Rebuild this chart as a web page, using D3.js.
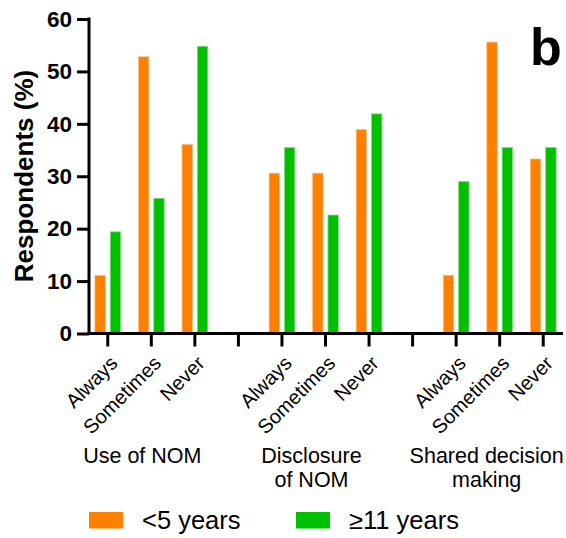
<!DOCTYPE html>
<html>
<head>
<meta charset="utf-8">
<script src="https://cdn.jsdelivr.net/npm/d3@7"></script>
<style>
  html, body { margin: 0; padding: 0; background: #fff; }
  svg { display: block; font-family: "Liberation Sans", Arial, sans-serif; }
</style>
</head>
<body>
<svg id="chart" width="566" height="538"></svg>
<script>
// Survey responses by experience group (% of respondents)
const groups = ["Use of NOM", "Disclosure of NOM", "Shared decision making"];
const groupLines = [["Use of NOM"], ["Disclosure", "of NOM"], ["Shared decision", "making"]];
const answers = ["Always", "Sometimes", "Never"];
const seriesNames = ["<5 years", "≥11 years"];
const seriesColors = ["#FF8000", "#00C000"];
const under5 = [11.1, 52.8, 36.1, 30.6, 30.6, 38.9, 11.1, 55.6, 33.3];
const over11 = [19.4, 25.8, 54.8, 35.5, 22.6, 41.9, 29.0, 35.5, 35.5];
const yTicks = [0, 10, 20, 30, 40, 50, 60];

// Slots along the x axis: three answers per question, an empty slot between questions
const slots = [];
groups.forEach((g, gi) => {
  if (gi > 0) slots.push({ key: "gap" + gi, label: "", gi: gi, empty: true });
  answers.forEach((a, ai) => slots.push({ key: g + "|" + a, label: a, gi: gi, idx: gi * 3 + ai }));
});

const svg = d3.select("#chart");
const axisX = 89, axisY = 333.5;
const font = "'Liberation Sans', Arial, sans-serif";

const x = d3.scaleBand().domain(slots.map(d => d.key)).range([86, 565]).padding(0);
const x1 = d3.scaleBand().domain(seriesNames).range([0, x.bandwidth()])
  .paddingInner(0.32).paddingOuter(0.58);
const y = d3.scaleLinear().domain([0, 60]).range([axisY, 19]);

// Bars
const barData = [];
slots.filter(s => !s.empty).forEach(s => {
  barData.push({ slot: s.key, series: seriesNames[0], v: under5[s.idx], c: seriesColors[0] });
  barData.push({ slot: s.key, series: seriesNames[1], v: over11[s.idx], c: seriesColors[1] });
});
svg.append("g").selectAll("rect").data(barData).join("rect")
  .attr("x", d => x(d.slot) + x1(d.series))
  .attr("width", x1.bandwidth())
  .attr("y", d => y(d.v))
  .attr("height", d => y(0) - y(d.v))
  .attr("fill", d => d.c)
  .attr("stroke", d => d3.interpolateRgb(d.c, "#fff")(0.5))
  .attr("stroke-width", 0.8);

// Y axis
const yAxis = svg.append("g").attr("transform", `translate(${axisX},0)`)
  .call(d3.axisLeft(y).tickValues(yTicks).tickSize(12).tickPadding(5).tickFormat(d3.format("d")));
yAxis.select(".domain").attr("stroke", "#000").attr("stroke-width", 3)
  .attr("d", `M0,${y(0)}V${y(60) - 1.5}`);
yAxis.selectAll(".tick line").attr("stroke", "#000").attr("stroke-width", 3);
yAxis.selectAll(".tick text").attr("fill", "#000").attr("font-size", 22.5).attr("font-weight", "bold")
  .attr("font-family", font);

// X axis
const xAxis = svg.append("g").attr("transform", `translate(0,${axisY})`)
  .call(d3.axisBottom(x).tickSize(13).tickFormat(k => slots.find(s => s.key === k).label));
xAxis.select(".domain").attr("stroke", "#000").attr("stroke-width", 3)
  .attr("d", `M${axisX - 1.5},0H563`);
xAxis.selectAll(".tick line").attr("stroke", "#000").attr("stroke-width", 3);
xAxis.selectAll(".tick text")
  .attr("fill", "#000").attr("font-size", 20)
  .attr("font-family", font)
  .attr("text-anchor", "end")
  .attr("dy", null)
  .attr("transform", "translate(11,31) rotate(-45)")
  .attr("y", 0).attr("x", 0);

// Question labels under each group of answers
const labelShift = [-9, -14, -13];
groups.forEach((g, gi) => {
  const members = slots.filter(s => s.gi === gi && !s.empty);
  const cx = d3.mean(members, s => x(s.key) + x.bandwidth() / 2) + labelShift[gi];
  const t = svg.append("text").attr("x", cx).attr("y", 463)
    .attr("text-anchor", "middle").attr("font-size", 21.5).attr("fill", "#000");
  groupLines[gi].forEach((line, li) => {
    t.append("tspan").attr("x", cx).attr("dy", li === 0 ? 0 : 23.5).text(line);
  });
});

// Y axis title
svg.append("text")
  .attr("transform", `translate(33,176) rotate(-90)`)
  .attr("text-anchor", "middle").attr("font-size", 26).attr("font-weight", "bold")
  .attr("fill", "#000").text("Respondents (%)");

// Panel letter
svg.append("text").attr("x", 530).attr("y", 65)
  .attr("font-size", 52).attr("font-weight", "bold").attr("fill", "#000").text("b");

// Legend
const legendX = [89, 296];
seriesNames.forEach((name, i) => {
  svg.append("rect").attr("x", legendX[i]).attr("y", 512).attr("width", 34).attr("height", 16.5)
    .attr("fill", seriesColors[i]);
  svg.append("text").attr("x", legendX[i] + 53).attr("y", 528.5)
    .attr("font-size", 25.5).attr("fill", "#000").text(name);
});
</script>
</body>
</html>
